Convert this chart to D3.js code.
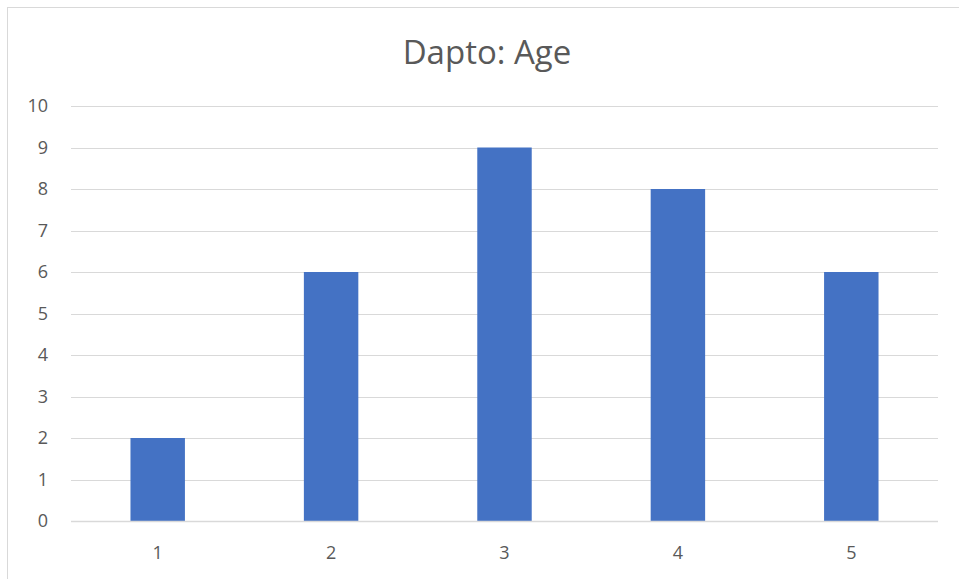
<!DOCTYPE html>
<html><head><meta charset="utf-8">
<script src="https://cdn.jsdelivr.net/npm/d3@7"></script>
<style>body{margin:0;background:#fff}svg{display:block}</style>
</head><body>
<script>
const categories = ["1","2","3","4","5"];
const values = [2,6,9,8,6];
const yTicks = [0,1,2,3,4,5,6,7,8,9,10];
const title = "Dapto: Age";

const W = 959, H = 579;
const svg = d3.select("body").append("svg").attr("width", W).attr("height", H);
svg.append("rect").attr("x",0).attr("y",0).attr("width",W).attr("height",H).attr("fill","#fff");
// chart border
svg.append("rect").attr("x",7.5).attr("y",7.5).attr("width",W+10).attr("height",H+10)
  .attr("fill","none").attr("stroke","#d9d9d9").attr("stroke-width",1);

const m = {left:71, right:938, top:106, bottom:521};
const x = d3.scaleBand().domain(categories).range([m.left, m.right]).paddingInner(0.686).paddingOuter(0.343);
const y = d3.scaleLinear().domain([0,10]).range([m.bottom, m.top]);

const font = "'Open Sans', 'Noto Sans', sans-serif";

// gridlines
svg.append("g").selectAll("line").data(yTicks).join("line")
  .attr("x1", m.left).attr("x2", m.right)
  .attr("y1", d => Math.round(y(d))+0.5).attr("y2", d => Math.round(y(d))+0.5)
  .attr("stroke", "#d9d9d9").attr("stroke-width", 1);

// bars
svg.append("g").selectAll("rect").data(values).join("rect")
  .attr("x", (d,i) => x(categories[i]))
  .attr("width", x.bandwidth())
  .attr("y", d => y(d))
  .attr("height", d => y(0) - y(d))
  .attr("fill", "#4472c4");

// baseline axis
svg.append("line").attr("x1", m.left).attr("x2", m.right)
  .attr("y1", Math.round(y(0))+0.5).attr("y2", Math.round(y(0))+0.5)
  .attr("stroke","#d9d9d9").attr("stroke-width",1.5);

// y axis labels
const yAxis = d3.axisLeft(y).tickValues(yTicks).tickSize(0).tickPadding(0).tickFormat(d3.format("d"));
const gy = svg.append("g").attr("transform", `translate(48,0)`).call(yAxis);
gy.select(".domain").remove();
gy.selectAll("text").attr("font-family", font).attr("font-size", 18).attr("fill", "#595959");

// x axis labels
const xAxis = d3.axisBottom(x).tickSize(0).tickPadding(0);
const gx = svg.append("g").attr("transform", `translate(0,546)`).call(xAxis);
gx.select(".domain").remove();
gx.selectAll("text").attr("font-family", font).attr("font-size", 18).attr("fill", "#595959");

svg.append("text").attr("x", 487).attr("y", 64).attr("text-anchor","middle")
  .attr("font-family", font).attr("font-size", 33).attr("fill","#595959").text(title);
</script>
</body></html>
